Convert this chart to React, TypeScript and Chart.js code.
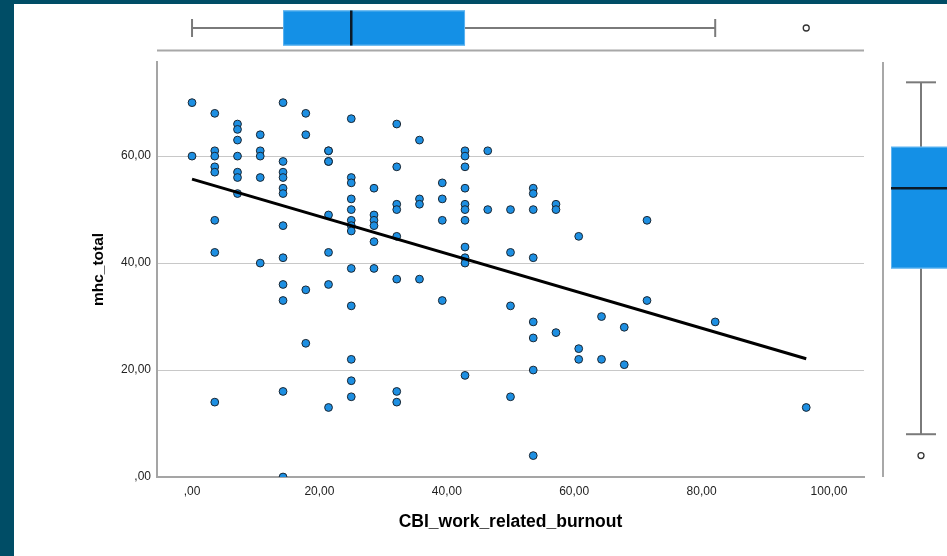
import React, { useEffect, useRef } from 'react';
import { Chart, registerables } from 'chart.js';

Chart.register(...registerables);

// CBI work-related burnout levels (x) and the mhc_total values observed at each level (y)
const burnoutLevels = [0, 3.57, 7.14, 10.71, 14.29, 17.86, 21.43, 25, 28.57, 32.14, 35.71, 39.29, 42.86, 46.43, 50, 53.57, 57.14, 60.71, 64.29, 67.86, 71.43, 82.14, 96.43];
const mhcByLevel: number[][] = [
  [70, 60],
  [68, 61, 60, 58, 57, 48, 42, 14],
  [66, 65, 63, 60, 57, 56, 53],
  [64, 61, 60, 56, 40],
  [70, 59, 57, 56, 54, 53, 47, 41, 36, 33, 16, 0],
  [68, 64, 35, 25],
  [61, 61, 59, 59, 49, 42, 36, 13],
  [67, 56, 55, 52, 50, 48, 47, 46, 39, 32, 22, 18, 15],
  [54, 49, 48, 47, 44, 39],
  [66, 58, 51, 50, 45, 37, 16, 14],
  [63, 52, 51, 37],
  [55, 52, 48, 33],
  [61, 60, 58, 54, 51, 50, 48, 43, 41, 40, 19],
  [61, 50],
  [50, 42, 32, 15],
  [54, 53, 50, 41, 29, 26, 20, 4],
  [51, 50, 27],
  [45, 24, 22],
  [30, 22],
  [28, 21],
  [48, 33],
  [29],
  [13],
];

const xTicks = [0, 20, 40, 60, 80, 100];
const yTicks = [0, 20, 40, 60];

// linear fit line end points
const fitLineX = [0, 96.43];
const fitLineY = [55.7, 22.1];

// marginal boxplots: [min whisker, Q1, median, Q3, max whisker]
const burnoutBox = [0, 14.29, 25, 42.86, 82.14];
const burnoutOutliers = [96.43];
const mhcBox = [8, 39, 54, 61.75, 73.8];
const mhcOutliers = [4];

const FONT = "'Liberation Sans', Arial, sans-serif";
const BOX_FILL = '#1490e6';
const POINT_FILL = '#1d8fe2';

const fmt = (v: number) => (v === 0 ? ',00' : v.toFixed(2).replace('.', ','));

const boxPlugin = {
  id: 'marginalBoxes',
  afterDraw(chart: any) {
    const { ctx, chartArea: ca, scales } = chart;
    const xs = scales.x;
    const ys = scales.y;
    const line = (x1: number, y1: number, x2: number, y2: number) => {
      ctx.beginPath();
      ctx.moveTo(x1, y1);
      ctx.lineTo(x2, y2);
      ctx.stroke();
    };
    const outlier = (px: number, py: number) => {
      ctx.beginPath();
      ctx.arc(px, py, 3, 0, Math.PI * 2);
      ctx.fillStyle = '#fff';
      ctx.fill();
      ctx.lineWidth = 1.3;
      ctx.strokeStyle = '#333';
      ctx.stroke();
    };
    ctx.save();

    // ---- top boxplot (burnout, horizontal)
    const baseY = ca.top - 11.5;
    ctx.strokeStyle = '#a8a8a8';
    ctx.lineWidth = 2;
    line(ca.left, baseY, ca.right, baseY);
    const cy = ca.top - 34;
    const [bmn, bq1, bmd, bq3, bmx] = burnoutBox.map((v) => xs.getPixelForValue(v));
    ctx.strokeStyle = '#7a7a7a';
    ctx.lineWidth = 2;
    line(bmn, cy, bq1, cy);
    line(bq3, cy, bmx, cy);
    line(bmn, cy - 9, bmn, cy + 9);
    line(bmx, cy - 9, bmx, cy + 9);
    ctx.fillStyle = BOX_FILL;
    ctx.fillRect(bq1, cy - 17.5, bq3 - bq1, 35);
    ctx.strokeStyle = '#5db3f0';
    ctx.lineWidth = 1;
    ctx.strokeRect(bq1 + 0.5, cy - 17, bq3 - bq1 - 1, 34);
    ctx.strokeStyle = '#0b1a28';
    ctx.lineWidth = 2.5;
    line(bmd, cy - 17.5, bmd, cy + 17.5);
    burnoutOutliers.forEach((v) => outlier(xs.getPixelForValue(v), cy));

    // ---- right boxplot (mhc_total, vertical)
    const baseX = ca.right + 19;
    ctx.strokeStyle = '#a8a8a8';
    ctx.lineWidth = 2;
    line(baseX, ca.top, baseX, ca.bottom);
    const cx = ca.right + 57;
    const [mmn, mq1, mmd, mq3, mmx] = mhcBox.map((v) => ys.getPixelForValue(v));
    ctx.strokeStyle = '#7a7a7a';
    ctx.lineWidth = 2;
    line(cx, mmx, cx, mq3);
    line(cx, mq1, cx, mmn);
    line(cx - 15, mmx, cx + 15, mmx);
    line(cx - 15, mmn, cx + 15, mmn);
    ctx.fillStyle = BOX_FILL;
    ctx.fillRect(cx - 30, mq3, 60, mq1 - mq3);
    ctx.strokeStyle = '#5db3f0';
    ctx.lineWidth = 1;
    ctx.strokeRect(cx - 29.5, mq3 + 0.5, 59, mq1 - mq3 - 1);
    ctx.strokeStyle = '#0b1a28';
    ctx.lineWidth = 2.5;
    line(cx - 30, mmd, cx + 30, mmd);
    mhcOutliers.forEach((v) => outlier(cx, ys.getPixelForValue(v)));

    ctx.restore();
  },
};

export default function App() {
  const canvasRef = useRef<HTMLCanvasElement | null>(null);

  useEffect(() => {
    const canvas = canvasRef.current;
    if (!canvas) return;
    const points: { x: number; y: number }[] = [];
    burnoutLevels.forEach((lvl, i) => {
      mhcByLevel[i].forEach((v) => points.push({ x: lvl, y: v }));
    });
    const fit = fitLineX.map((xv, i) => ({ x: xv, y: fitLineY[i] }));

    const chart = new Chart(canvas, {
      type: 'scatter',
      data: {
        datasets: [
          {
            label: 'fit',
            data: fit,
            showLine: true,
            borderColor: '#000',
            borderWidth: 3,
            pointRadius: 0,
            fill: false,
          } as any,
          {
            label: 'mhc_total',
            data: points,
            backgroundColor: POINT_FILL,
            borderColor: '#1b2631',
            borderWidth: 1,
            pointRadius: 3.9,
          },
        ],
      },
      options: {
        animation: false,
        responsive: false,
        devicePixelRatio: 1,
        layout: { padding: { top: 58, right: 83, left: 0, bottom: 0 } },
        plugins: {
          legend: { display: false },
          tooltip: { enabled: false },
        },
        scales: {
          x: {
            type: 'linear',
            min: -5.5,
            max: 105.5,
            afterBuildTicks: (s: any) => {
              s.ticks = xTicks.map((v) => ({ value: v }));
            },
            afterFit: (s: any) => {
              s.height = 79;
            },
            grid: { display: false, drawTicks: false },
            border: { display: true, color: '#a5a5a5', width: 2 },
            ticks: {
              padding: 7,
              color: '#222',
              font: { size: 12, family: FONT },
              maxRotation: 0,
              autoSkip: false,
              callback: (v: any) => fmt(Number(v)),
            },
            title: {
              display: true,
              text: 'CBI_work_related_burnout',
              color: '#000',
              font: { size: 17.5, weight: 'bold', family: FONT },
              padding: { top: 0, bottom: 23 },
            },
          },
          y: {
            type: 'linear',
            min: 0,
            max: 77.6,
            afterBuildTicks: (s: any) => {
              s.ticks = yTicks.map((v) => ({ value: v }));
            },
            afterFit: (s: any) => {
              s.width = 143;
            },
            grid: { color: '#c8c8c8', lineWidth: 1, drawTicks: false },
            border: { display: true, color: '#a5a5a5', width: 2 },
            ticks: {
              padding: 6,
              color: '#222',
              font: { size: 12, family: FONT },
              autoSkip: false,
              callback: (v: any) => fmt(Number(v)),
            },
            title: {
              display: true,
              text: 'mhc_total',
              color: '#000',
              font: { size: 15.5, weight: 'bold', family: FONT },
              padding: { top: 75, bottom: 0 },
            },
          },
        },
      } as any,
      plugins: [boxPlugin],
    });

    return () => chart.destroy();
  }, []);

  return (
    <div
      style={{
        position: 'fixed',
        left: 0,
        top: 0,
        width: 947,
        height: 556,
        background: '#004d66',
        overflow: 'hidden',
      }}
    >
      <div
        style={{
          position: 'absolute',
          left: 14,
          top: 4,
          width: 933,
          height: 552,
          background: '#fff',
        }}
      >
        <canvas ref={canvasRef} width={933} height={552} style={{ display: 'block' }} />
      </div>
    </div>
  );
}
